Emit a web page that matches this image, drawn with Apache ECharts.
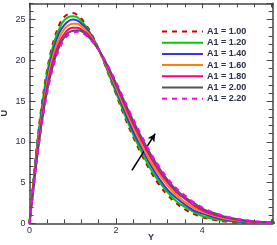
<!DOCTYPE html>
<html><head><meta charset="utf-8">
<script src="https://cdn.jsdelivr.net/npm/echarts@6/dist/echarts.min.js"></script>
<style>html,body{margin:0;padding:0;background:#fff}#c{width:277px;height:245px}</style>
</head><body><div id="c"></div>
<script>
var yPos = [0,0.1,0.2,0.3,0.4,0.5,0.6,0.7,0.8,0.9,1.0,1.1,1.2,1.3,1.4,1.6,1.8,2.0,2.2,2.4,2.6,2.8,3.0,3.2,3.4,3.6,3.8,4.0,4.3,4.6,5.0,5.4,5.8];
var seriesNames = ["A1 = 1.00","A1 = 1.20","A1 = 1.40","A1 = 1.60","A1 = 1.80","A1 = 2.00","A1 = 2.20"];
var u100 = [0,5.8,11.0,15.2,18.6,21.2,23.1,24.5,25.3,25.7,25.8,25.6,25.1,24.4,23.6,21.4,18.7,15.9,13.1,10.6,8.4,6.4,4.75,3.45,2.45,1.7,1.15,0.75,0.4,0.18,0.05,0.01,0];
var u120 = [0,5.6,10.7,14.8,18.2,20.8,22.7,24.0,24.9,25.3,25.4,25.3,24.8,24.2,23.4,21.4,18.8,16.1,13.4,10.9,8.7,6.7,5.1,3.8,2.7,2.0,1.4,0.9,0.5,0.27,0.10,0.03,0.01];
var u140 = [0,5.4,10.3,14.3,17.6,20.2,22.1,23.5,24.3,24.8,25.0,24.9,24.5,24.0,23.3,21.4,19.0,16.4,13.8,11.3,9.2,7.2,5.5,4.1,3.1,2.3,1.6,1.2,0.7,0.38,0.16,0.06,0.02];
var u160 = [0,5.2,9.9,13.8,17.0,19.6,21.5,22.9,23.8,24.3,24.5,24.5,24.2,23.7,23.1,21.3,19.1,16.7,14.2,11.8,9.6,7.6,6.0,4.6,3.45,2.6,1.9,1.4,0.9,0.50,0.23,0.09,0.03];
var u180 = [0,4.9,9.4,13.3,16.5,19.0,20.9,22.3,23.2,23.8,24.0,24.0,23.8,23.4,22.9,21.3,19.3,17.0,14.6,12.2,10.1,8.1,6.4,5.0,3.8,3.0,2.2,1.6,1.0,0.62,0.29,0.12,0.04];
var u200 = [0,4.7,9.1,12.9,16.0,18.5,20.4,21.8,22.8,23.4,23.6,23.7,23.6,23.2,22.7,21.3,19.4,17.2,14.9,12.6,10.5,8.5,6.8,5.3,4.1,3.2,2.5,1.8,1.2,0.72,0.35,0.15,0.045];
var u220 = [0,4.6,8.9,12.6,15.7,18.2,20.1,21.5,22.5,23.1,23.4,23.5,23.4,23.1,22.6,21.3,19.5,17.4,15.1,12.8,10.7,8.7,7.0,5.5,4.3,3.4,2.6,1.95,1.25,0.78,0.38,0.16,0.05];
var xTickLabels = ["0","2","4"];
var yTickLabels = ["0","5","10","15","20","25"];
var arrowStart = [2.37, 6.5];
var arrowEnd = [2.91, 11.0];

var allU = [u100,u120,u140,u160,u180,u200,u220];
var colors = ['#cc0000','#00cc00','#3333ff','#ff8000','#ff0080','#555555','#ff00ff'];
var dashed = [true,false,false,false,false,false,true];

var X_MAX = 5.63, Y_MAX = 27;
var axisCol = '#444';
var labelCol = '#2b2f45';

function xAx(pos, major, show){
  return {
    type:'value', min:0, max:X_MAX, position:pos,
    interval: major ? 2 : 0.4,
    axisLine:{show:show, onZero:false, lineStyle:{color:axisCol, width:1.5}},
    axisTick:{show:true, inside:true, length: major?5:4, lineStyle:{color:axisCol, width:1}},
    axisLabel:{show: major && pos==='bottom', color:labelCol, fontSize:9, fontFamily:'Liberation Sans', margin:3,
      showMaxLabel:false,
      formatter:function(v){ var s=String(Math.round(v)); return xTickLabels.indexOf(s)>=0 && Math.abs(v-Math.round(v))<1e-6 ? s : ''; }},
    splitLine:{show:false},
    name: (major && pos==='bottom') ? 'Y' : '',
    nameLocation:'middle', nameGap:10, nameMoveOverlap:false,
    nameTextStyle:{color:labelCol, fontSize:9, fontWeight:'bold', fontFamily:'Liberation Sans'}
  };
}
function yAx(pos, major, show){
  return {
    type:'value', min:0, max:Y_MAX, position:pos,
    interval: major ? 5 : 1,
    axisLine:{show:show, onZero:false, lineStyle:{color:axisCol, width:1.5}},
    axisTick:{show:true, inside:true, length: major?6:4, lineStyle:{color:axisCol, width:1}},
    axisLabel:{show: major && pos==='left', color:labelCol, fontSize:9, fontFamily:'Liberation Sans', margin:4,
      showMaxLabel:false,
      formatter:function(v){ var s=String(v); return yTickLabels.indexOf(s)>=0 ? s : ''; }},
    splitLine:{show:false},
    name: (major && pos==='left') ? 'U' : '',
    nameLocation:'middle', nameGap:20, nameRotate:90, nameMoveOverlap:false,
    nameTextStyle:{color:labelCol, fontSize:9, fontWeight:'bold', fontFamily:'Liberation Sans'}
  };
}

var series = allU.map(function(arr, i){
  return {
    name: seriesNames[i], type:'line', xAxisIndex:0, yAxisIndex:0,
    data: arr.map(function(v, j){ return [yPos[j], v]; }),
    smooth: 0.4, symbol:'none', clip:true,
    lineStyle:{color:colors[i], width:2, type: dashed[i] ? [5,5] : 'solid'},
    itemStyle:{color:colors[i]},
    z: 2 + i
  };
});
series.push({
  type:'line', xAxisIndex:0, yAxisIndex:0, data:[], symbol:'none', silent:true, z:20,
  markLine:{
    silent:true, symbol:['none','arrow'], symbolSize:[6,8], label:{show:false},
    lineStyle:{color:'#000', width:1.6, type:'solid'},
    data:[[{coord:arrowStart},{coord:arrowEnd}]]
  }
});

var chart = echarts.init(document.getElementById('c'), null, {renderer:'canvas'});
chart.setOption({
  animation:false,
  backgroundColor:'#fff',
  grid:{left:29.5, right:4.3, top:3.3, bottom:21.7, containLabel:false, outerBoundsMode:'none'},
  xAxis:[xAx('bottom',true,true), xAx('bottom',false,false), xAx('top',true,true), xAx('top',false,false)],
  yAxis:[yAx('left',true,true), yAx('left',false,false), yAx('right',true,true), yAx('right',false,false)],
  legend:{
    orient:'vertical', left:161, top:27, padding:0, itemWidth:41, itemHeight:8, itemGap:2.2,
    data: seriesNames,
    itemStyle:{opacity:0},
    textStyle:{fontSize:9, lineHeight:8, fontWeight:'bold', color:labelCol, fontFamily:'Liberation Sans', padding:[0,0,0,-1]},
    selectedMode:false
  },
  series: series
});
</script></body></html>
